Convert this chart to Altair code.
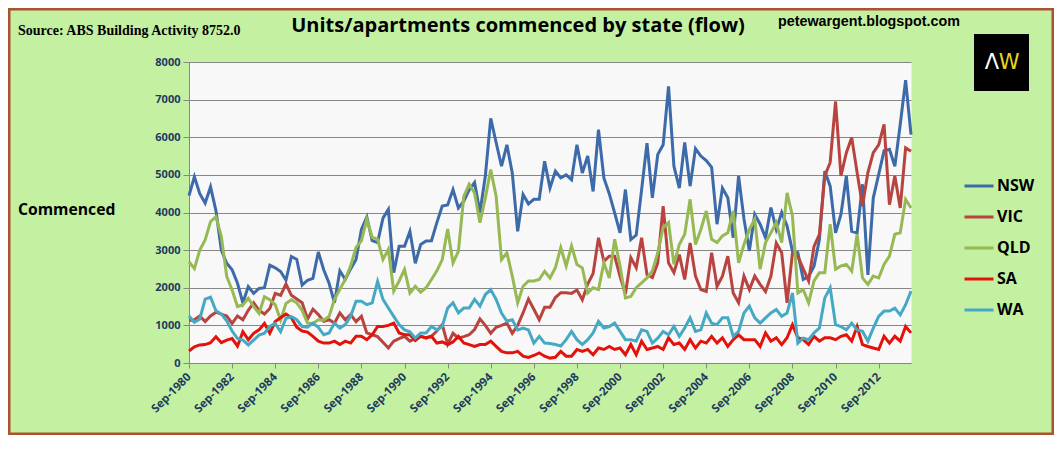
import altair as alt
import pandas as pd

# ---------------- data ----------------
months = ["Mar", "Jun", "Sep", "Dec"]
quarters = [f"{months[(2 + k) % 4]}-{1980 + (2 + k) // 4}" for k in range(135)]  # Sep-1980 .. Mar-2014

tick_labels = ["Sep-1980", "Sep-1982", "Sep-1984", "Sep-1986", "Sep-1988", "Sep-1990",
               "Sep-1992", "Sep-1994", "Sep-1996", "Sep-1998", "Sep-2000", "Sep-2002",
               "Sep-2004", "Sep-2006", "Sep-2008", "Sep-2010", "Sep-2012"]

states = ["NSW", "VIC", "QLD", "SA", "WA"]

nsw = [4450, 4950, 4500, 4250, 4680, 4050, 3000, 2650, 2480, 2120,
       1600, 2030, 1850, 1980, 2000, 2600, 2530, 2430, 2200, 2830,
       2750, 2070, 2200, 2250, 2950, 2480, 2120, 1600, 2450, 2220,
       2500, 2750, 3550, 3880, 3250, 3200, 3850, 4080, 2400, 3100,
       3100, 3500, 2650, 3150, 3240, 3250, 3730, 4170, 4200, 4610,
       4120, 4300, 4600, 4800, 4000, 4970, 6500, 5860, 5230, 5800,
       5050, 3500, 4480, 4230, 4350, 4350, 5360, 4650, 5100, 4920,
       5000, 4870, 5800, 5050, 5500, 4560, 6200, 4920, 4500, 3990,
       3460, 4610, 3280, 3400, 4600, 5840, 4390, 5540, 5800, 7350,
       5230, 4650, 5860, 4700, 5700, 5500, 5380, 5200, 3690, 4650,
       4390, 3330, 4970, 3830, 2980, 3950, 3690, 3330, 4130, 3550,
       4000, 3640, 2970, 2930, 2220, 2300, 2570, 3280, 5100, 4700,
       3460, 3950, 4970, 3500, 3460, 4750, 2340, 4390, 5010, 5640,
       5680, 5230, 6340, 7520, 6070]

vic = [1130, 1150, 1250, 1100, 1250, 1350, 1300, 1250, 1050, 1250,
       1150, 1400, 1600, 1400, 1300, 1450, 1850, 1800, 2100, 1800,
       1700, 1600, 1170, 1430, 1290, 1110, 1150, 1060, 1330, 1150,
       1290, 1100, 1240, 800, 750, 700, 550, 400, 580, 650,
       710, 580, 650, 710, 660, 710, 850, 1020, 500, 790,
       660, 700, 750, 890, 1170, 1000, 790, 950, 1000, 1060,
       790, 1000, 1330, 1700, 1430, 1150, 1480, 1480, 1740, 1870,
       1870, 1850, 1940, 1680, 2100, 2380, 3330, 2700, 2840, 2840,
       2300, 1830, 2800, 2530, 3330, 2350, 2270, 2660, 4170, 2660,
       2400, 2880, 2220, 3190, 2310, 1950, 1900, 2930, 2040, 2310,
       2840, 1860, 1600, 2310, 1950, 2310, 2090, 1900, 2310, 3190,
       2930, 1600, 2930, 2840, 2500, 2180, 3100, 3420, 4970, 5330,
       6950, 4970, 5590, 5990, 5060, 4170, 5060, 5590, 5800, 6340,
       4210, 4970, 4120, 5720, 5630]

qld = [2690, 2510, 3000, 3270, 3760, 3890, 3360, 2300, 1940, 1500,
       1540, 1720, 1500, 1320, 1760, 1680, 1550, 1140, 1580, 1680,
       1600, 1400, 1060, 1050, 1150, 1140, 1240, 1690, 1960, 2220,
       2580, 3070, 3250, 3820, 3340, 3290, 2750, 3020, 1910, 2180,
       2490, 1860, 2040, 1880, 2000, 2220, 2450, 2750, 3560, 2660,
       2970, 4430, 4750, 4520, 3730, 4390, 5140, 4430, 2750, 2930,
       2310, 1600, 2040, 2180, 2180, 2220, 2440, 2260, 2530, 3070,
       2580, 3110, 2620, 2530, 1860, 2000, 1950, 2660, 2260, 3290,
       2580, 1730, 1770, 2000, 2130, 2260, 2450, 2930, 3600, 3730,
       2620, 3150, 3420, 4350, 3150, 3550, 4040, 3290, 3200, 3380,
       3460, 4040, 2660, 3150, 3550, 3820, 2490, 3200, 3460, 3730,
       3200, 4520, 3910, 1860, 1950, 1600, 2180, 2400, 2400, 3690,
       2490, 2580, 2620, 2440, 3420, 2260, 2090, 2310, 2260, 2620,
       2840, 3420, 3460, 4350, 4120]

sa = [320, 430, 480, 490, 540, 700, 540, 610, 650, 450,
      830, 620, 790, 880, 1050, 790, 1100, 1200, 1300, 1200,
      950, 850, 820, 710, 580, 530, 530, 580, 490, 580,
      530, 710, 710, 620, 750, 970, 970, 1000, 1060, 800,
      750, 750, 600, 710, 670, 710, 530, 560, 490, 560,
      710, 530, 490, 440, 490, 490, 580, 440, 310, 270,
      270, 310, 180, 150, 200, 270, 180, 130, 150, 310,
      180, 180, 360, 310, 360, 220, 400, 360, 440, 360,
      400, 220, 490, 220, 580, 360, 400, 440, 360, 670,
      490, 530, 360, 620, 400, 580, 530, 710, 530, 670,
      440, 620, 750, 620, 620, 620, 440, 800, 580, 670,
      490, 670, 1020, 670, 620, 490, 710, 580, 670, 670,
      620, 710, 750, 580, 970, 490, 440, 400, 360, 710,
      530, 710, 580, 970, 800]

wa = [1250, 1080, 1170, 1700, 1750, 1390, 1300, 1120, 850, 650,
      610, 480, 610, 740, 790, 970, 1050, 830, 1190, 1230,
      1150, 970, 950, 1060, 950, 750, 800, 1060, 930, 1020,
      1240, 1640, 1640, 1550, 1600, 2170, 1690, 1460, 1240, 1020,
      880, 830, 660, 800, 800, 970, 880, 970, 1460, 1600,
      1330, 1460, 1460, 1690, 1510, 1820, 1950, 1690, 1330, 1110,
      1150, 880, 930, 880, 530, 710, 530, 520, 490, 450,
      620, 840, 620, 490, 620, 800, 1110, 930, 970, 1060,
      840, 620, 620, 580, 880, 840, 530, 660, 840, 750,
      970, 710, 930, 1200, 840, 880, 1330, 1060, 1020, 1200,
      1200, 710, 840, 1330, 1510, 1200, 1060, 1200, 1330, 1420,
      1240, 1330, 1860, 530, 660, 620, 800, 930, 1730, 2000,
      1020, 970, 880, 1060, 880, 840, 580, 930, 1240, 1380,
      1380, 1460, 1280, 1550, 1910]

series = {"NSW": nsw, "VIC": vic, "QLD": qld, "SA": sa, "WA": wa}
colors = ["#3D6AA8", "#B8433F", "#97B954", "#E3120B", "#46A9C4"]

title_text = "Units/apartments commenced by state (flow)"
source_text = "Source: ABS Building Activity 8752.0"
blog_text = "petewargent.blogspot.com"
ylabel_text = "Commenced"

rows = []
for s in states:
    for q, v in zip(quarters, series[s]):
        rows.append({"Quarter": q, "State": s, "Value": v})
df = pd.DataFrame(rows)

W, H = 722, 301
AXIS_COL = "#1F3A60"
GRID = "#868686"

lines = alt.Chart(df).mark_line(strokeWidth=3).encode(
    x=alt.X("Quarter:O", sort=quarters,
            scale=alt.Scale(type="point", padding=0),
            axis=alt.Axis(values=tick_labels, title=None, labelAngle=-45,
                          labelAlign="right", labelBaseline="middle",
                          labelFont="Open Sans", labelFontSize=11.5, labelFontWeight="bold",
                          labelColor=AXIS_COL, tickColor=GRID, tickSize=5,
                          domainColor=GRID, labelPadding=7, grid=False)),
    y=alt.Y("Value:Q", scale=alt.Scale(domain=[0, 8000], nice=False),
            axis=alt.Axis(values=list(range(0, 8001, 1000)), format="d", title=None,
                          labelFont="Open Sans", labelFontSize=11, labelFontWeight="bold",
                          labelColor=AXIS_COL, tickColor=GRID, tickSize=6,
                          domainColor=GRID, gridColor=GRID, gridWidth=1, labelPadding=3)),
    color=alt.Color("State:N", sort=states,
                    scale=alt.Scale(domain=states, range=colors),
                    legend=alt.Legend(title=None, orient="none", legendX=774, legendY=108,
                                      symbolType="stroke", symbolSize=841,
                                      symbolStrokeWidth=3, labelFont="Open Sans",
                                      labelFontSize=16, labelFontWeight="bold",
                                      labelColor="#000000", labelOffset=2,
                                      rowPadding=7, padding=0)),
)


def text_layer(txt, x, y, size, font, align="left", color="#000000", weight="bold"):
    return alt.Chart(pd.DataFrame({"t": [txt]})).mark_text(
        align=align, baseline="middle", font=font, fontSize=size,
        fontWeight=weight, color=color
    ).encode(x=alt.value(x), y=alt.value(y), text="t:N")


title = text_layer(title_text, 329, -36, 20, "Open Sans", align="center")
source = text_layer(source_text, -171, -31, 14, "Liberation Serif")
blog = text_layer(blog_text, 589, -40, 14.3, "Liberation Sans")
ylab = text_layer(ylabel_text, -171, 148, 15.7, "Open Sans")

logo_box = alt.Chart(pd.DataFrame({"k": [1]})).mark_rect(color="#000000").encode(
    x=alt.value(785), x2=alt.value(840), y=alt.value(-28), y2=alt.value(29))
logo_a = text_layer("\u039b", 803, 1, 21, "DejaVu Sans", align="center",
                    color="#FFFFFF", weight="normal")
logo_w = text_layer("W", 820, 1, 21, "DejaVu Sans", align="center",
                    color="#E8D51E", weight="normal")

frame = alt.Chart(pd.DataFrame({"k": [1]})).mark_rect(
    fillOpacity=0, stroke="#A9532F", strokeWidth=3).encode(
    x=alt.value(-180), x2=alt.value(W + 142), y=alt.value(-53), y2=alt.value(H + 71))

chart = alt.layer(lines, title, source, blog, ylab, logo_box, logo_a, logo_w, frame).properties(
    width=W, height=H,
    padding={"left": 181, "top": 54, "right": 143, "bottom": 72},
    autosize=alt.AutoSizeParams(type="none"),
    background="#C4F0A2",
).configure_view(fill="#F8F8F8", stroke="transparent")

chart.save("out.html", embed_options={"renderer": "svg", "actions": False})
